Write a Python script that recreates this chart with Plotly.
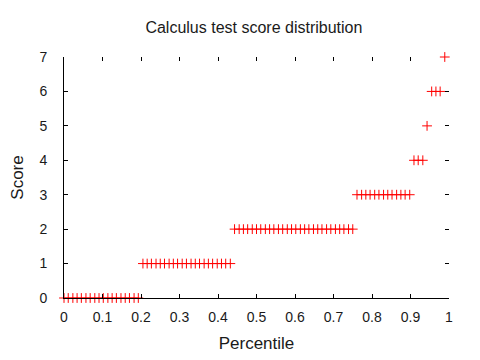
import plotly.graph_objects as go

percentile = [0.000, 0.011, 0.023, 0.034, 0.045, 0.057, 0.068, 0.080, 0.091, 0.102,
              0.114, 0.125, 0.136, 0.148, 0.159, 0.170, 0.182, 0.193,
              0.205, 0.216, 0.227, 0.239, 0.250, 0.261, 0.273, 0.284, 0.295, 0.307,
              0.318, 0.330, 0.341, 0.352, 0.364, 0.375, 0.386, 0.398, 0.409, 0.420, 0.432,
              0.443, 0.455, 0.466, 0.477, 0.489, 0.500, 0.511, 0.523, 0.534, 0.545,
              0.557, 0.568, 0.580, 0.591, 0.602, 0.614, 0.625, 0.636, 0.648, 0.659,
              0.670, 0.682, 0.693, 0.705, 0.716, 0.727, 0.739, 0.750,
              0.761, 0.773, 0.784, 0.795, 0.807, 0.818, 0.830, 0.841, 0.852, 0.864,
              0.875, 0.886, 0.898,
              0.909, 0.920, 0.932,
              0.943,
              0.955, 0.966, 0.977,
              0.989]
score = [0]*18 + [1]*21 + [2]*28 + [3]*13 + [4]*3 + [5]*1 + [6]*3 + [7]*1

x_ticks = [0, 0.1, 0.2, 0.3, 0.4, 0.5, 0.6, 0.7, 0.8, 0.9, 1]
x_tick_labels = ["0", "0.1", "0.2", "0.3", "0.4", "0.5", "0.6", "0.7", "0.8", "0.9", "1"]
y_ticks = [0, 1, 2, 3, 4, 5, 6, 7]

font = dict(family="Liberation Sans, Arial, sans-serif", size=14, color="#1a1a1a")

fig = go.Figure()
fig.add_trace(go.Scatter(
    x=percentile, y=score, mode="markers",
    marker=dict(symbol="cross-thin", size=7, line=dict(color="#ff0000", width=1), color="#ff0000"),
    cliponaxis=False, showlegend=False, hoverinfo="skip"))
# invisible trace for mirrored tick axes
fig.add_trace(go.Scatter(x=[0, 1], y=[0, 7], xaxis="x2", yaxis="y2", mode="markers",
                         marker=dict(opacity=0), showlegend=False, hoverinfo="skip"))

tick_common = dict(showgrid=False, zeroline=False, ticks="inside", ticklen=4,
                   tickcolor="black", tickwidth=1, automargin=False)

fig.update_layout(
    width=472, height=352,
    margin=dict(l=56, r=31, t=49, b=62),
    paper_bgcolor="white", plot_bgcolor="white",
    font=font,
    title=dict(text="Calculus test score distribution", x=0.521, xanchor="center",
               y=0.946, yanchor="middle", font=dict(family=font["family"], size=16, color="#1a1a1a")),
    xaxis=dict(range=[0, 1], tickvals=x_ticks, ticktext=x_tick_labels,
               showline=True, linecolor="black", linewidth=1,
               title=dict(text="Percentile", standoff=13), ticklabelstandoff=6, **tick_common),
    yaxis=dict(range=[0, 7], tickvals=y_ticks,
               showline=True, linecolor="black", linewidth=1,
               title=dict(text="Score", standoff=19), ticklabelstandoff=13, **tick_common),
    xaxis2=dict(range=[0, 1], tickvals=x_ticks, overlaying="x", side="top",
                showline=False, showticklabels=False, **tick_common),
    yaxis2=dict(range=[0, 7], tickvals=y_ticks, overlaying="y", side="right",
                showline=False, showticklabels=False, **tick_common),
)

fig.write_html("out.html")
